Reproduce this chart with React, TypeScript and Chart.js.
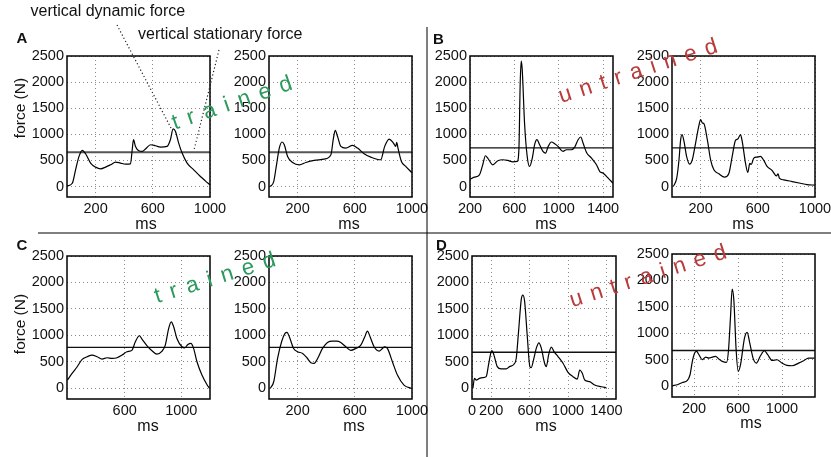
import React, { useEffect, useRef } from "react";
import { Chart, registerables } from "chart.js";

Chart.register(...registerables);

// ---------- data (ms, N) ----------
const a1X = [0, 37, 60, 84, 107, 130, 165, 200, 235, 270, 305, 340, 374, 409, 444, 456, 465, 479, 502, 526, 549, 584, 619, 654, 700, 723, 742, 758, 781, 805, 840, 886, 933, 967, 1000];
const a1Y = [10, 64, 320, 577, 692, 628, 449, 372, 340, 372, 417, 468, 449, 430, 436, 705, 897, 769, 686, 673, 718, 801, 782, 756, 769, 897, 1103, 1058, 833, 641, 449, 320, 192, 109, 32];

const a2X = [9, 33, 49, 72, 91, 107, 130, 165, 212, 258, 316, 386, 433, 449, 463, 479, 502, 537, 584, 619, 665, 712, 781, 809, 840, 870, 886, 893, 902, 926, 956, 998];
const a2Y = [0, 96, 353, 737, 853, 801, 577, 461, 417, 461, 500, 526, 609, 897, 1077, 962, 769, 737, 788, 737, 628, 564, 513, 769, 910, 833, 769, 846, 737, 481, 385, 269];

const b1X = [200, 239, 285, 315, 339, 360, 405, 451, 496, 541, 586, 626, 641, 653, 662, 671, 692, 716, 737, 762, 783, 804, 828, 858, 882, 903, 934, 964, 994, 1039, 1069, 1115, 1145, 1175, 1199, 1220, 1251, 1296, 1341, 1371, 1402, 1447, 1490];
const b1Y = [141, 180, 224, 417, 590, 545, 417, 494, 513, 500, 474, 481, 705, 1987, 2400, 2244, 1218, 577, 385, 545, 801, 897, 801, 673, 641, 756, 853, 820, 769, 673, 705, 705, 756, 897, 949, 833, 654, 545, 417, 288, 256, 160, 64];

const b2X = [9, 33, 49, 60, 70, 84, 102, 123, 142, 165, 188, 200, 212, 223, 247, 270, 293, 328, 367, 398, 421, 444, 460, 479, 491, 514, 530, 544, 554, 572, 595, 619, 642, 665, 700, 730, 742, 751, 781, 840, 898, 944, 998];
const b2Y = [0, 160, 513, 885, 994, 865, 577, 430, 513, 833, 1167, 1282, 1218, 1205, 897, 513, 320, 244, 180, 256, 577, 885, 910, 994, 865, 449, 269, 442, 423, 545, 564, 577, 500, 385, 308, 205, 244, 160, 128, 96, 64, 38, 26];

const c1X = [195, 228, 264, 299, 334, 369, 405, 440, 475, 511, 546, 581, 616, 652, 675, 704, 722, 758, 793, 828, 864, 887, 911, 929, 946, 969, 1005, 1024, 1047, 1068, 1087, 1111, 1146, 1181, 1200];
const c1Y = [157, 283, 409, 547, 598, 629, 598, 554, 579, 566, 579, 629, 692, 723, 881, 994, 931, 805, 711, 648, 704, 818, 1132, 1258, 1164, 943, 786, 767, 830, 849, 755, 503, 252, 75, 0];

const c2X = [9, 33, 60, 88, 112, 126, 142, 172, 200, 235, 265, 293, 316, 340, 374, 409, 444, 474, 502, 537, 572, 607, 642, 670, 688, 707, 735, 770, 793, 809, 828, 863, 898, 944, 998];
const c2Y = [0, 126, 566, 881, 1038, 1057, 975, 755, 692, 660, 579, 484, 472, 566, 755, 868, 893, 893, 868, 786, 717, 755, 818, 975, 1082, 975, 786, 704, 755, 786, 755, 503, 252, 63, 0];

const d1X = [9, 26, 43, 78, 113, 148, 172, 193, 207, 228, 263, 304, 357, 391, 437, 461, 485, 513, 530, 548, 576, 603, 617, 645, 670, 697, 722, 756, 774, 798, 826, 854, 896, 948, 1000, 1052, 1097, 1122, 1149, 1174, 1226, 1278, 1348, 1400];
const d1Y = [0, 190, 158, 190, 203, 222, 443, 646, 716, 633, 411, 367, 367, 411, 456, 570, 1076, 1677, 1760, 1646, 981, 411, 392, 570, 760, 861, 760, 475, 411, 633, 779, 696, 601, 475, 304, 222, 177, 348, 285, 158, 127, 63, 32, 13];

const d2X = [4, 49, 94, 140, 164, 185, 206, 224, 245, 275, 306, 336, 366, 396, 426, 457, 496, 514, 532, 547, 562, 583, 602, 623, 659, 683, 707, 737, 767, 804, 840, 870, 910, 955, 1000, 1045, 1091, 1151, 1196, 1241, 1296];
const d2Y = [13, 31, 75, 113, 220, 472, 629, 660, 598, 503, 553, 535, 553, 566, 516, 472, 453, 692, 1321, 1837, 1635, 692, 283, 409, 912, 1019, 818, 535, 440, 579, 673, 598, 491, 503, 440, 396, 390, 440, 484, 535, 535];

// vertical stationary force (N)
const statA = 655;
const statB = 740;
const statC = 774;
const statD1 = 684;
const statD2 = 679;

// tick labels
const yTicks = [0, 500, 1000, 1500, 2000, 2500];
const xTicksStd = [200, 600, 1000];
const xTicksB1 = [200, 600, 1000, 1400];
const xTicksC1 = [600, 1000];
const xTicksD1 = [0, 200, 600, 1000, 1400];

// ---------- layout / style ----------
const FONT = "'Liberation Sans', Arial, Helvetica, sans-serif";
const PADL = 50;
const PADT = 14;
const PADR = 26;
const PADB = 24;

type PanelCfg = {
  L: number; T: number; R: number; B: number;
  xMin: number; xMax: number; xTicks: number[];
  xs: number[]; ys: number[]; stat: number;
  statColor: string; statWidth: number;
};

const panels: PanelCfg[] = [
  { L: 67, T: 56, R: 210, B: 197, xMin: 0, xMax: 1000, xTicks: xTicksStd, xs: a1X, ys: a1Y, stat: statA, statColor: "#555", statWidth: 2 },
  { L: 269, T: 56, R: 412, B: 197, xMin: 0, xMax: 1000, xTicks: xTicksStd, xs: a2X, ys: a2Y, stat: statA, statColor: "#555", statWidth: 2 },
  { L: 470, T: 56, R: 613, B: 197, xMin: 200, xMax: 1490, xTicks: xTicksB1, xs: b1X, ys: b1Y, stat: statB, statColor: "#111", statWidth: 1.4 },
  { L: 672, T: 56, R: 815, B: 197, xMin: 0, xMax: 1000, xTicks: xTicksStd, xs: b2X, ys: b2Y, stat: statB, statColor: "#111", statWidth: 1.4 },
  { L: 67, T: 256, R: 210, B: 399, xMin: 192, xMax: 1203, xTicks: xTicksC1, xs: c1X, ys: c1Y, stat: statC, statColor: "#111", statWidth: 1.4 },
  { L: 269, T: 256, R: 412, B: 399, xMin: 0, xMax: 1000, xTicks: xTicksStd, xs: c2X, ys: c2Y, stat: statC, statColor: "#111", statWidth: 1.4 },
  { L: 472, T: 256, R: 616, B: 399, xMin: 0, xMax: 1500, xTicks: xTicksD1, xs: d1X, ys: d1Y, stat: statD1, statColor: "#111", statWidth: 1.4 },
  { L: 672, T: 254, R: 815, B: 397, xMin: 0, xMax: 1300, xTicks: xTicksStd, xs: d2X, ys: d2Y, stat: statD2, statColor: "#111", statWidth: 1.4 },
];

const framePlugin = {
  id: "frame",
  afterDraw(chart: any) {
    const { ctx, chartArea: a } = chart;
    ctx.save();
    ctx.strokeStyle = "#000";
    ctx.lineWidth = 1.5;
    ctx.strokeRect(a.left, a.top, a.right - a.left, a.bottom - a.top);
    ctx.restore();
  },
};

function Panel({ cfg }: { cfg: PanelCfg }) {
  const ref = useRef<HTMLCanvasElement | null>(null);
  const w = cfg.R - cfg.L + PADL + PADR;
  const h = cfg.B - cfg.T + PADT + PADB;
  useEffect(() => {
    if (!ref.current) return;
    const tickFont = { family: FONT, size: 14.5 };
    const gridOpts = { color: "#8a8a8a", lineWidth: 1, drawTicks: false };
    const chart = new Chart(ref.current, {
      type: "line",
      data: {
        datasets: [
          {
            data: cfg.xs.map((x, i) => ({ x, y: cfg.ys[i] })),
            borderColor: "#000",
            borderWidth: 1.2,
            pointRadius: 0,
            cubicInterpolationMode: "monotone",
            fill: false,
          },
          {
            data: [
              { x: cfg.xMin, y: cfg.stat },
              { x: cfg.xMax, y: cfg.stat },
            ],
            borderColor: cfg.statColor,
            borderWidth: cfg.statWidth,
            pointRadius: 0,
            fill: false,
          },
        ],
      },
      options: {
        responsive: false,
        animation: false,
        devicePixelRatio: 1,
        events: [],
        layout: { padding: { left: 0, top: PADT, right: PADR, bottom: 0 } },
        plugins: { legend: { display: false }, tooltip: { enabled: false } },
        scales: {
          x: {
            type: "linear",
            min: cfg.xMin,
            max: cfg.xMax,
            afterBuildTicks: (s: any) => {
              s.ticks = cfg.xTicks.map((v) => ({ value: v }));
            },
            afterFit: (s: any) => {
              s.height = PADB;
            },
            ticks: {
              font: tickFont,
              color: "#111",
              padding: 3,
              maxRotation: 0,
              autoSkip: false,
              callback: (v: any) => String(v),
            },
            grid: gridOpts,
            border: { display: false, dash: [1, 3] },
          },
          y: {
            type: "linear",
            min: -200,
            max: 2500,
            afterBuildTicks: (s: any) => {
              s.ticks = yTicks.map((v) => ({ value: v }));
            },
            afterFit: (s: any) => {
              s.width = PADL;
            },
            ticks: {
              font: tickFont,
              color: "#111",
              padding: 3,
              autoSkip: false,
              callback: (v: any) => String(v),
            },
            grid: gridOpts,
            border: { display: false, dash: [1, 3] },
          },
        },
      } as any,
      plugins: [framePlugin],
    });
    return () => chart.destroy();
  }, []);
  return (
    <canvas
      ref={ref}
      width={w}
      height={h}
      style={{ position: "absolute", left: cfg.L - PADL, top: cfg.T - PADT, width: w, height: h }}
    />
  );
}

function Txt(props: {
  x: number; y: number; text: string; size: number; rot?: number;
  color?: string; bold?: boolean; ls?: number; anchor?: "center" | "left";
}) {
  const { x, y, text, size, rot = 0, color = "#111", bold = false, ls = 0, anchor = "center" } = props;
  const tx = anchor === "center" ? "-50%" : "0";
  return (
    <div
      style={{
        position: "absolute",
        left: x,
        top: y,
        transform: `translate(${tx}, -50%) rotate(${rot}deg)`,
        transformOrigin: anchor === "center" ? "50% 50%" : "0 50%",
        fontFamily: FONT,
        fontSize: size,
        fontWeight: bold ? "bold" : "normal",
        color,
        lineHeight: 1,
        whiteSpace: "nowrap",
        letterSpacing: ls,
        paddingLeft: ls,
      }}
    >
      {text}
    </div>
  );
}

const GREEN = "#2c9a5c";
const RED = "#b83c3c";

export default function App() {
  const msPos = [
    [146, 224], [349, 224], [546, 224], [743, 224],
    [148, 426], [354, 426], [546, 426], [751, 423],
  ];
  return (
    <div
      style={{
        position: "absolute",
        left: 0,
        top: 0,
        width: 831,
        height: 457,
        background: "#fff",
        overflow: "hidden",
      }}
    >
      {panels.map((p, i) => (
        <Panel key={i} cfg={p} />
      ))}

      <svg
        width={831}
        height={457}
        style={{ position: "absolute", left: 0, top: 0, pointerEvents: "none" }}
      >
        <line x1={427} y1={27} x2={427} y2={457} stroke="#000" strokeWidth={1} />
        <line x1={38} y1={233} x2={831} y2={233} stroke="#000" strokeWidth={1} />
        <line x1={117} y1={25} x2={171} y2={128} stroke="#222" strokeWidth={1.2} strokeDasharray="1.2 2.4" />
        <line x1={219} y1={50} x2={194} y2={150} stroke="#222" strokeWidth={1.2} strokeDasharray="1.2 2.4" />
      </svg>

      {msPos.map(([x, y], i) => (
        <Txt key={"ms" + i} x={x} y={y} text="ms" size={16} />
      ))}
      <Txt x={20} y={108} text="force (N)" size={15.5} rot={-90} />
      <Txt x={20} y={324} text="force (N)" size={15.5} rot={-90} />

      <Txt x={30.5} y={11.3} text="vertical dynamic force" size={16} anchor="left" />
      <Txt x={138} y={34.3} text="vertical stationary force" size={16} anchor="left" />

      <Txt x={22} y={37} text="A" size={15} bold />
      <Txt x={438.5} y={37.5} text="B" size={15} bold />
      <Txt x={22} y={243.5} text="C" size={15} bold />
      <Txt x={441.5} y={243.5} text="D" size={15} bold />

      <Txt x={232} y={103} text="trained" size={22.5} rot={-19} color={GREEN} ls={9.5} />
      <Txt x={638} y={71} text="untrained" size={22.5} rot={-18} color={RED} ls={9} />
      <Txt x={215} y={278} text="trained" size={22.5} rot={-17.5} color={GREEN} ls={9.5} />
      <Txt x={648} y={276} text="untrained" size={22.5} rot={-17.7} color={RED} ls={8.7} />
    </div>
  );
}
